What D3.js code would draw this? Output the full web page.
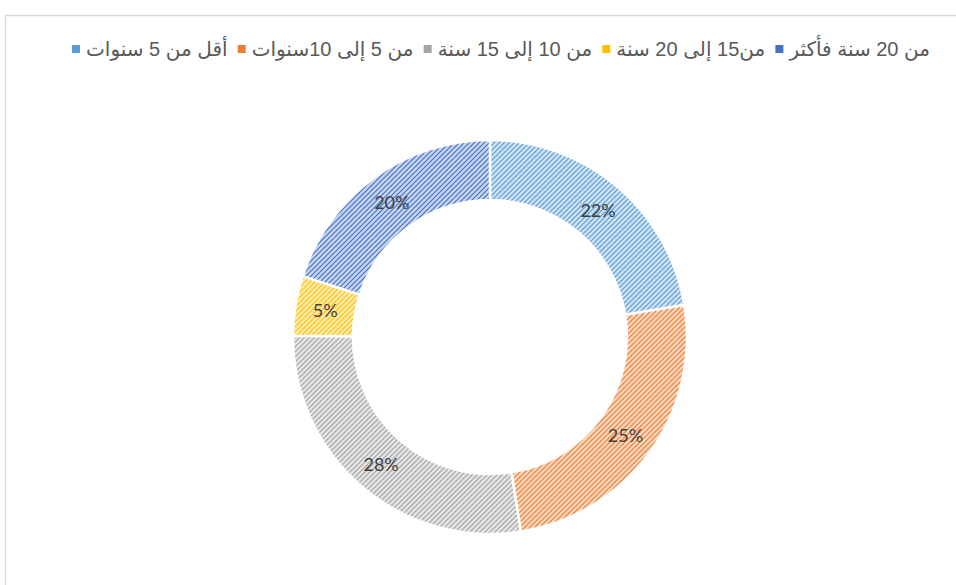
<!DOCTYPE html>
<html><head><meta charset="utf-8">
<script src="https://cdn.jsdelivr.net/npm/d3@7"></script>
<style>html,body{margin:0;padding:0;background:#fff;}svg{display:block;}</style>
</head><body>
<svg id="c" width="956" height="585"></svg>
<script>
const categories = ["أقل من 5 سنوات", "من 5 إلى 10سنوات", "من 10 إلى 15 سنة", "من15 إلى 20 سنة", "من 20 سنة فأكثر"];
const values = [22.4, 25.1, 27.6, 4.9, 20.0];
const colors = ["#5B9BD5", "#ED7D31", "#A5A5A5", "#FFC000", "#4472C4"];
const bgColors = ["#cfe3f6", "#fad7bf", "#e5e5e5", "#ffebb0", "#c8d5f0"];

const svg = d3.select("#c");
// border
svg.append("rect").attr("x", 5.5).attr("y", 15.5).attr("width", 1000).attr("height", 1000)
  .attr("fill", "#fff").attr("stroke", "#d9d9d9").attr("stroke-width", 1.5);

const defs = svg.append("defs");
const ps = 5;
colors.forEach((c, i) => {
  const p = defs.append("pattern").attr("id", "pat" + i).attr("patternUnits", "userSpaceOnUse")
    .attr("width", ps).attr("height", ps);
  p.append("rect").attr("width", ps).attr("height", ps).attr("fill", bgColors[i]);
  p.append("path").attr("d", `M0,${ps} L${ps},0 M-1,1 L1,-1 M${ps-1},${ps+1} L${ps+1},${ps-1}`)
    .attr("stroke", c).attr("stroke-width", 1.2).attr("fill", "none");
});

const cx = 490, cy = 337, rOut = 197, rIn = 137;
const pie = d3.pie().sort(null).value(d => d)(values);
const arc = d3.arc().innerRadius(rIn).outerRadius(rOut);
const g = svg.append("g").attr("transform", `translate(${cx},${cy})`);
g.selectAll("path").data(pie).join("path")
  .attr("d", arc).attr("fill", (d, i) => `url(#pat${i})`)
  .attr("stroke", "#fff").attr("stroke-width", 2.5);

const total = d3.sum(values);
const lblArc = d3.arc().innerRadius((rIn + rOut) / 2).outerRadius((rIn + rOut) / 2);
g.selectAll("text.lbl").data(pie).join("text").attr("class", "lbl")
  .attr("transform", d => `translate(${lblArc.centroid(d)})`)
  .attr("text-anchor", "middle").attr("dominant-baseline", "central")
  .attr("font-family", "Lato, 'Open Sans', sans-serif").attr("font-size", 18)
  .attr("fill", "#404040")
  .text(d => Math.round(d.value / total * 100) + "%");

// legend, laid out right to left between xRight and xLeft
const lg = svg.append("g");
const xRight = 930, xLeft = 72, ly = 49, mSize = 8, mGap = 6;
const order = [4, 3, 2, 1, 0];
const texts = order.map(i => lg.append("text").attr("y", ly).attr("text-anchor", "start")
    .attr("dominant-baseline", "central").attr("direction", "rtl")
    .attr("font-family", "'Liberation Sans', 'DejaVu Sans', sans-serif").attr("font-size", 20)
    .attr("fill", "#595959").text(categories[i]));
const widths = texts.map(t => t.node().getComputedTextLength());
const used = d3.sum(widths) + order.length * (mSize + mGap);
const itemGap = Math.max(6, (xRight - xLeft - used) / (order.length - 1));
let x = xRight;
order.forEach((i, k) => {
  texts[k].attr("x", x);
  const mx = x - widths[k] - mGap - mSize;
  lg.append("rect").attr("x", mx).attr("y", ly - mSize / 2).attr("width", mSize).attr("height", mSize)
    .attr("fill", colors[i]);
  x = mx - itemGap;
});
</script>
</body></html>
